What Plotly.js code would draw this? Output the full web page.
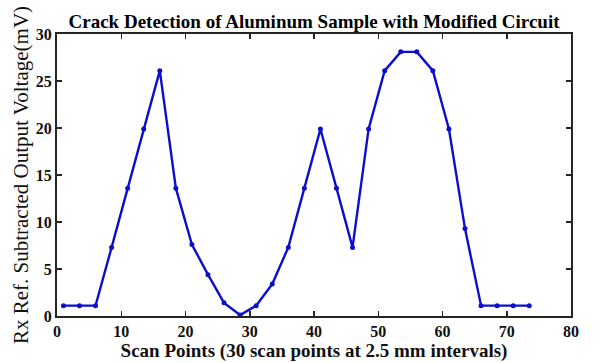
<!DOCTYPE html>
<html><head><meta charset="utf-8">
<script src="https://cdn.plot.ly/plotly-3.0.1.min.js"></script>
<style>html,body{margin:0;padding:0;background:#fff}#c{width:601px;height:363px}</style>
</head><body><div id="c"></div>
<script>
const scanPos = [1,3.5,6,8.5,11,13.5,16,18.5,21,23.5,26,28.5,31,33.5,36,38.5,41,43.5,46,48.5,51,53.5,56,58.5,61,63.5,66,68.5,71,73.5];
const voltage = [1.1,1.1,1.1,7.3,13.6,19.9,26.1,13.6,7.6,4.4,1.4,0.1,1.1,3.4,7.3,13.6,19.9,13.6,7.3,19.9,26.1,28.1,28.1,26.1,19.9,9.3,1.1,1.1,1.1,1.1];
const xTicks = [0,10,20,30,40,50,60,70,80];
const yTicks = [0,5,10,15,20,25,30];
const serif = "'Liberation Serif', 'Times New Roman', serif";
Plotly.newPlot('c', [{
  x: scanPos, y: voltage, type: 'scatter', mode: 'lines+markers',
  line: {color: '#0d0dcc', width: 2.4},
  marker: {color: '#0d0dcc', size: 5, symbol: 'circle'}
}], {
  width: 601, height: 363,
  margin: {l: 57, r: 30, t: 34, b: 47},
  paper_bgcolor: '#fff', plot_bgcolor: '#fff',
  showlegend: false,
  title: {text: '<b>Crack Detection of Aluminum Sample with Modified Circuit</b>',
    font: {family: serif, size: 19, color: '#000'}, x: 0.5225, xanchor: 'center', y: 0.942, yanchor: 'middle'},
  xaxis: {range: [0, 80], tickvals: xTicks, ticktext: xTicks.map(v => '<b>' + v + '</b>'),
    ticks: 'inside', ticklen: 5, tickwidth: 1.5, tickcolor: '#262626',
    showline: true, linecolor: '#262626', linewidth: 2, mirror: 'ticks',
    showgrid: false, zeroline: false,
    tickfont: {family: serif, size: 16, color: '#111'},
    title: {text: '<b>Scan Points (30 scan points at 2.5 mm intervals)</b>', font: {family: serif, size: 19, color: '#111'}, standoff: 1}},
  yaxis: {range: [0, 30], tickvals: yTicks, ticktext: yTicks.map(v => '<b>' + v + '</b>'),
    ticks: 'inside', ticklen: 5, tickwidth: 1.5, tickcolor: '#262626',
    showline: true, linecolor: '#262626', linewidth: 2, mirror: 'ticks',
    showgrid: false, zeroline: false,
    tickfont: {family: serif, size: 16, color: '#111'},
    title: {text: 'Rx Ref. Subtracted Output Voltage(mV)', font: {family: serif, size: 21, color: '#111'}, standoff: 1}}
}, {displayModeBar: false, staticPlot: true});
</script></body></html>
